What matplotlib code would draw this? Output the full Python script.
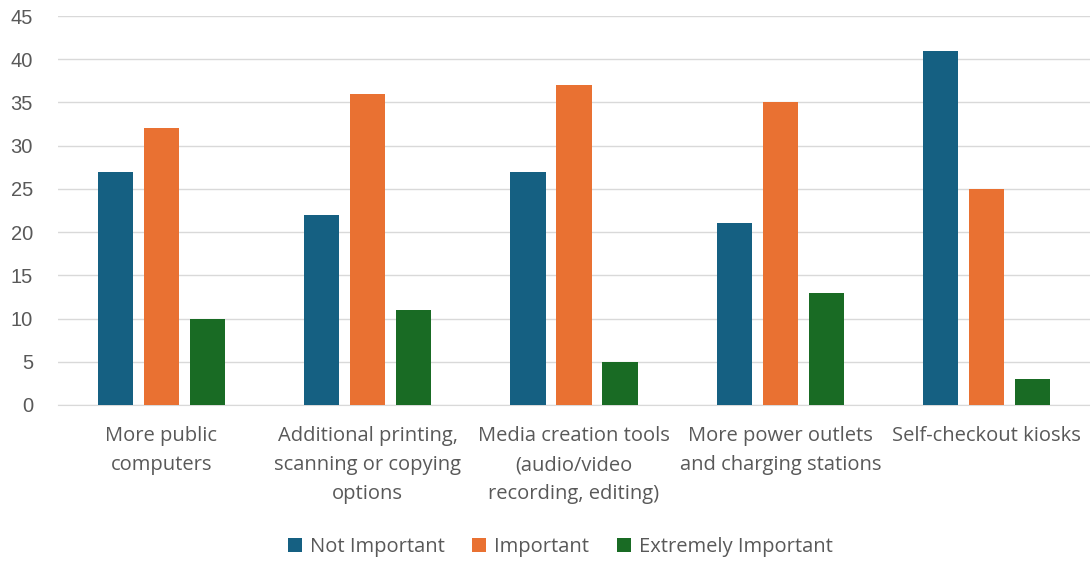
import matplotlib
matplotlib.use("Agg")
import matplotlib.pyplot as plt
import numpy as np

categories = ["More public\ncomputers",
              "Additional printing,\nscanning or copying\noptions",
              "Media creation tools\n(audio/video\nrecording, editing)",
              "More power outlets\nand charging stations",
              "Self-checkout kiosks"]
series_names = ["Not Important", "Important", "Extremely Important"]
not_important = [27, 22, 27, 21, 41]
important = [32, 36, 37, 35, 25]
extremely_important = [10, 11, 5, 13, 3]
colors = ["#156082", "#E97132", "#196B24"]

plt.rcParams['font.family'] = ['Open Sans', 'DejaVu Sans']
txt = "#595959"

fig = plt.figure(figsize=(10.9, 5.61), dpi=100)
ax = fig.add_axes([58/1090, 1-405/561, 1032/1090, 389/561])

x = np.arange(len(categories))
w = 0.17
step = 0.223
for i, (vals, name) in enumerate(zip([not_important, important, extremely_important], series_names)):
    ax.bar(x + (i-1)*step, vals, width=w, color=colors[i], label=name, zorder=3)

ax.set_xlim(-0.5, len(categories)-0.5)
ax.set_ylim(0, 45)
ax.grid(axis='y', color='#D9D9D9', linewidth=1, zorder=0)
for s in ['top', 'right', 'left']:
    ax.spines[s].set_visible(False)
ax.spines['bottom'].set_color('#D9D9D9')
ax.tick_params(axis='both', length=0, colors=txt)
ax.tick_params(axis='y', pad=18)
ax.set_yticks(range(0, 46, 5))
ax.set_yticklabels([str(v) for v in range(0, 46, 5)], family=['Liberation Sans', 'DejaVu Sans'], fontsize=14.5)
for lab in ax.get_yticklabels():
    lab.set_horizontalalignment('right')
ax.set_xticks(x)
ax.set_xticklabels(categories, linespacing=1.62, fontsize=14.5)
ax.tick_params(axis='x', pad=15)

leg = ax.legend(loc='center', ncol=3, frameon=False, fontsize=14.5, handlelength=0.7, handleheight=0.7,
                columnspacing=1.35, handletextpad=0.4, labelcolor=txt,
                bbox_to_anchor=(0.514, (561-547)/561), bbox_transform=fig.transFigure)
fig.savefig("out.png", dpi=100)
